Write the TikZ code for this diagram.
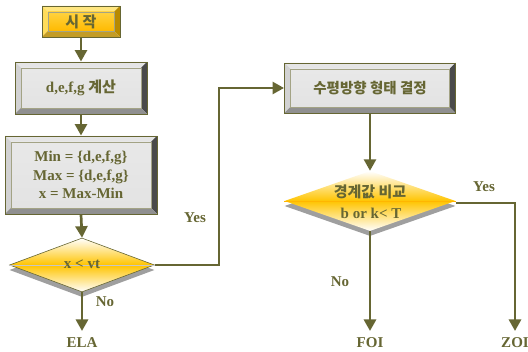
\documentclass[tikz,border=0pt]{standalone}
\usepackage{fontspec}
\setmainfont{Liberation Serif}
\newfontfamily\kr{Noto Sans CJK KR}
\usetikzlibrary{arrows.meta,shapes.geometric,shadows,calc}
\definecolor{oliv}{HTML}{666633}
\definecolor{goldc}{HTML}{FFC400}
\definecolor{glight}{HTML}{FFE680}
\definecolor{gdark}{HTML}{B88A00}
\begin{document}
\begin{tikzpicture}[x=1pt,y=-1pt,
  conn/.style={draw=oliv, line width=2.7pt},
  arr/.style={conn, -{Triangle[length=11.5pt,width=12pt]}},
  lbl/.style={text=oliv, font=\bfseries\fontsize{15}{18}\selectfont, inner sep=0pt},
  endlbl/.style={lbl, anchor=north, inner sep=6pt},
  krf/.style={font=\kr\bfseries\fontsize{15}{18}\selectfont},
  bevelbox/.style n args={5}{draw=oliv, line width=0.9pt, inner sep=0pt, rectangle,
    align=center, text=oliv, font=\bfseries\fontsize{15}{18.5}\selectfont,
    path picture={
      \coordinate (ppnw) at (path picture bounding box.north west);
      \coordinate (ppne) at (path picture bounding box.north east);
      \coordinate (ppsw) at (path picture bounding box.south west);
      \coordinate (ppse) at (path picture bounding box.south east);
      \fill[#1] (ppnw) -- (ppne) -- ($(ppne)+(-6,6)$) -- ($(ppnw)+(6,6)$) -- cycle;
      \fill[#2] (ppnw) -- ($(ppnw)+(6,6)$) -- ($(ppsw)+(6,-6)$) -- (ppsw) -- cycle;
      \fill[#3] (ppne) -- (ppse) -- ($(ppse)+(-6,-6)$) -- ($(ppne)+(-6,6)$) -- cycle;
      \fill[#4] (ppsw) -- (ppse) -- ($(ppse)+(-6,-6)$) -- ($(ppsw)+(6,-6)$) -- cycle;
      \shade[#5] ($(ppnw)+(6,6)$) rectangle ($(ppse)+(-6,-6)$);
      \draw[oliv!60, line width=0.5pt] ($(ppnw)+(6,6)$) rectangle ($(ppse)+(-6,-6)$);
    }},
  graybox/.style={bevelbox={gray!20}{gray!35}{gray!95!white!55!black}{gray!55!black!60}{top color=gray!18, middle color=white!96!gray, bottom color=gray!22}},
  goldbox/.style={bevelbox={glight}{glight!70!goldc}{gdark}{gdark!85!white}{top color=goldc!75!white, middle color=goldc, bottom color=goldc!85!orange}},
  dia/.style={diamond, inner sep=0pt, top color=white, bottom color=white, middle color=goldc,
    drop shadow={shadow xshift=0pt, shadow yshift=-5pt, fill=gray!75, opacity=1}}
]
\useasboundingbox (0,0) rectangle (528,352);

% boxes
\node[goldbox, minimum width=78, minimum height=31] (start) at (81,21.5) {\kr\bfseries\fontsize{15}{18}\selectfont 시 작};
\node[graybox, minimum width=132, minimum height=52] (calc) at (81,88) {d,e,f,g {\kr 계산}};
\node[graybox, minimum width=152, minimum height=78] (mm) at (81,175) {Min = \{d,e,f,g\}\\Max = \{d,e,f,g\}\\x = Max-Min};
\node[graybox, minimum width=171, minimum height=50] (shape) at (370,88) {\kr\bfseries\fontsize{14.5}{17}\selectfont 수평방향 형태 결정};

% diamonds
\node[dia, draw=oliv, line width=0.6pt, minimum width=145, minimum height=54] (d1) at (82,265) {};
\draw[gray!45, line width=0.8pt] (d1.west) -- (d1.east);
\node[lbl] (d1t) at (82,264) {x < vt};

\node[dia, minimum width=171, minimum height=60] (d2) at (370,201) {};
\draw[goldc!80!orange, line width=0.7pt] (d2.west) -- (d2.east);
\node[lbl, krf] (d2t) at (370,192) {경계값 비교};
\node[lbl] (d2u) at (371,213) {b or k< T};

% terminals
\node[endlbl] (ela) at (82,331) {ELA};
\node[endlbl] (foi) at (370,331) {FOI};
\node[endlbl] (zoi) at (515,331) {ZOI};

% branch labels
\node[lbl] (yes1) at (195,218) {Yes};
\node[lbl] (no1) at (105,302) {No};
\node[lbl] (yes2) at (484,187) {Yes};
\node[lbl] (no2) at (340,282) {No};

% connectors
\draw[arr] (start.south) -- (calc.north);
\draw[arr] (calc.south) -- (mm.north);
\draw[arr] (mm.south) -- (d1.north);
\draw[arr] (d1.south) -- (ela.north);
\coordinate (turn) at (219,265);
\draw[arr] (d1.east) -- (turn) |- (shape.west);
\draw[arr] (shape.south) -- (d2.north);
\draw[arr] (d2.south) -- (foi.north);
\draw[arr] ($(d2.east)+(0,2)$) -| (zoi.north);
\end{tikzpicture}
\end{document}
